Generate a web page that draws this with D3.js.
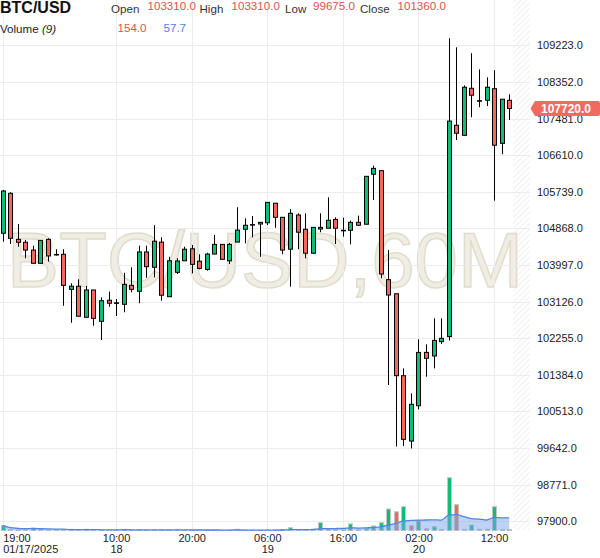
<!DOCTYPE html>
<html><head><meta charset="utf-8">
<script src="https://cdn.jsdelivr.net/npm/d3@7"></script>
<style>
body{margin:0;background:#fff;}
svg{display:block;font-family:"Liberation Sans",Arial,sans-serif;}
</style>
</head><body><svg id="c" width="600" height="558"></svg>
<script>
// ---- DATA ----
const symbol = "BTC/USD";
const watermark = "BTC/USD,60M";
const startTime = new Date(2025, 0, 17, 19, 0, 0);
const opens = [104750,105700,104605,104535,104350,104035,104605,104245,104250,103415,103490,102750,103400,102655,103155,103095,103060,103510,103370,104305,103940,104540,103240,103820,104095,104380,104085,103890,104255,104485,104095,104540,104845,104955,104970,105000,105465,105130,104370,105185,104845,104275,104850,104870,105080,104820,104820,105010,104965,106155,106240,103645,103310,101360,99805,100645,101915,101830,102170,102290,107320,107080,108200,107905,107915,108190,106890,107915];
const highs = [105780,105725,104970,104590,104455,104580,104630,104370,104370,103560,103655,103495,103400,103225,103360,103185,103810,103940,104455,104455,104945,104655,104190,104155,104430,104470,104250,104285,104710,104485,104520,105370,105105,105160,105010,105485,105465,105130,105325,105225,105225,104890,105225,105605,105130,105120,105050,105170,106105,106360,106240,104350,103310,101535,100940,102225,102105,102725,102725,109390,109175,108270,109035,108650,108460,108630,107940,108055];
const lows = [104550,104495,104430,104155,104035,104035,104075,104220,103025,102620,102775,102750,102550,102210,103000,102780,102870,103345,103085,103690,103700,103145,103240,103780,104095,103795,103890,103860,104255,104130,104020,104540,104510,104655,104190,104945,104880,104250,103480,104370,104155,104255,104775,104870,104495,104670,104485,104925,104965,105540,103680,101140,99675,99685,99630,100560,101335,101535,102115,102195,106970,107080,107510,107750,107780,105525,106630,107445];
const closes = [105755,104630,104535,104350,104035,104580,104210,104245,103510,103490,102775,103400,102725,103145,103085,103095,103535,103415,104305,103955,104560,103275,104095,104090,104370,104010,103915,104255,104485,104130,104485,104825,104940,104955,105010,105485,105130,104350,105225,104775,104275,104890,104890,105060,104870,104820,105010,104940,106105,106295,103780,103280,101360,99845,100680,101915,101775,102200,102250,107420,107130,108225,108035,107905,108225,106845,107940,107720];
const volumes = [40,8,6,10,18,5,4,3,6,10,5,10,4,5,3,3,10,3,4,3,4,5,3,10,3,3,3,2,3,2,3,10,3,2,3,4,3,8,23,8,5,12,64,15,8,8,54,8,15,37,64,177,154,196,40,81,15,31,10,435,213,10,45,10,10,196,8,8];
const volumeUp = [1,0,0,1,1,1,0,0,0,1,0,1,0,1,0,0,1,0,1,0,1,0,1,1,1,0,0,1,1,0,1,1,1,0,1,1,0,0,1,0,0,1,1,0,0,0,1,0,1,1,1,1,0,1,0,1,0,1,1,1,0,1,1,0,1,1,1,0];
const priceTicks = [97900,98771,99642,100513,101384,102255,103126,103997,104868,105739,106610,107481,108352,109223];
const timeTickIndex = [0,15,25,35,45,55,65];
const timeTickLabels = ["19:00","10:00","20:00","06:00","16:00","02:00","12:00"];
const dateTickLabels = ["01/17/2025","18","","19","","20",""];
const headerLabels = ["Open","High","Low","Close"];
const headerValues = ["103310.0","103310.0","99675.0","101360.0"];
const volumeLabel = "Volume";
const volumePeriod = "(9)";
const volumeValues = ["154.0","57.7"];
const lastPrice = 107720;

// ---- CHART ----
const svg = d3.select("#c");
const GREEN = "#0dbf74", RED = "#f4685b";
const plotRight = 530, plotBottom = 530, futureLeft = 513;
const times = opens.map((_, i) => d3.timeHour.offset(startTime, i));
const x = d3.scaleTime().domain([times[0], times[times.length - 1]]).range([2.7, 509.2]);
const y = d3.scaleLinear().domain([97900, 109223]).range([521.1, 45.3]);
const yv = d3.scaleLinear().domain([0, 435]).range([530.5, 477.7]);

// hatch pattern for future area
const defs = svg.append("defs");
const pat = defs.append("pattern").attr("id", "hatch").attr("patternUnits", "userSpaceOnUse")
  .attr("width", 4).attr("height", 4).attr("patternTransform", "rotate(45)");
pat.append("line").attr("x1", 0).attr("y1", 0).attr("x2", 0).attr("y2", 4)
  .attr("stroke", "#e4e4e4").attr("stroke-width", 1.2);
svg.append("rect").attr("x", futureLeft).attr("y", 0).attr("width", plotRight - futureLeft)
  .attr("height", plotBottom).attr("fill", "url(#hatch)");

// watermark
svg.append("text").attr("x", 265).attr("y", 287).attr("text-anchor", "middle")
  .attr("font-size", 78).attr("fill", "#f0ede4").attr("stroke", "#e2dccd").attr("stroke-width", 1.5)
  .text(watermark);

// grid
const grid = svg.append("g").attr("stroke", "#ececec").attr("stroke-width", 1);
grid.selectAll(".h").data(priceTicks).join("line")
  .attr("x1", 0).attr("x2", plotRight)
  .attr("y1", d => Math.round(y(d)) + 0.5).attr("y2", d => Math.round(y(d)) + 0.5);
grid.selectAll(".v").data(timeTickIndex).join("line")
  .attr("x1", d => Math.round(x(times[d])) + 0.5).attr("x2", d => Math.round(x(times[d])) + 0.5)
  .attr("y1", 0).attr("y2", plotBottom);

// volume bars
const idx = d3.range(opens.length);
svg.append("g").selectAll("rect").data(idx).join("rect")
  .attr("x", i => Math.round(x(times[i])) - 1.5)
  .attr("width", 4)
  .attr("y", i => yv(volumes[i]))
  .attr("height", i => yv(0) - yv(volumes[i]))
  .attr("fill", i => volumeUp[i] ? GREEN : RED)
  .attr("stroke", "#c4c4c4").attr("stroke-width", 1);

// volume MA(9)
const volMA = idx.map(i => d3.mean(volumes.slice(Math.max(0, i - 8), i + 1)));
const area = d3.area().x(i => x(times[i])).y0(yv(0)).y1(i => yv(volMA[i])).curve(d3.curveMonotoneX);
const line = d3.line().x(i => x(times[i])).y(i => yv(volMA[i])).curve(d3.curveMonotoneX);
svg.append("path").datum(idx).attr("d", area).attr("fill", "#7aa7ee").attr("fill-opacity", 0.5);
svg.append("path").datum(idx).attr("d", line).attr("fill", "none").attr("stroke", "#4f86e6").attr("stroke-width", 1.3);

// candles
const cg = svg.append("g");
cg.selectAll("line").data(idx).join("line")
  .attr("x1", i => Math.round(x(times[i])) + 0.5).attr("x2", i => Math.round(x(times[i])) + 0.5)
  .attr("y1", i => y(highs[i])).attr("y2", i => y(lows[i]))
  .attr("stroke", "#000").attr("stroke-width", 1);
cg.selectAll("rect").data(idx).join("rect")
  .attr("x", i => Math.round(x(times[i])) - 1.5)
  .attr("width", 4)
  .attr("y", i => y(Math.max(opens[i], closes[i])))
  .attr("height", i => Math.max(0.5, Math.abs(y(opens[i]) - y(closes[i]))))
  .attr("fill", i => closes[i] > opens[i] ? GREEN : (closes[i] < opens[i] ? RED : "#000"))
  .attr("stroke", "#000").attr("stroke-width", 1);

// right axis
const yAxis = d3.axisRight(y).tickValues(priceTicks).tickSize(0).tickPadding(0).tickFormat(d3.format(".1f"));
const ya = svg.append("g").attr("transform", "translate(537,0)").call(yAxis);
ya.select(".domain").remove();
ya.selectAll("text").attr("font-size", 11).attr("fill", "#222").attr("font-family", "Liberation Sans, Arial, sans-serif");

// bottom axis
const xAxis = d3.axisBottom(x).tickValues(timeTickIndex.map(i => times[i])).tickSize(0).tickPadding(0)
  .tickFormat((d, k) => timeTickLabels[k]);
const xa = svg.append("g").attr("transform", "translate(0,534)").call(xAxis);
xa.select(".domain").remove();
xa.selectAll("text").attr("font-size", 11).attr("fill", "#222").attr("font-family", "Liberation Sans, Arial, sans-serif")
  .attr("text-anchor", (d, k) => k === 0 ? "start" : "middle")
  .attr("dy", "0.71em");
xa.selectAll(".tick").each(function (d, k) {
  if (dateTickLabels[k]) {
    d3.select(this).append("text").attr("y", 18.5).attr("font-size", 11).attr("fill", "#222")
      .attr("font-family", "Liberation Sans, Arial, sans-serif")
      .attr("text-anchor", k === 0 ? "start" : "middle").text(dateTickLabels[k]);
  }
});

// last price label
const py = y(lastPrice);
svg.append("path")
  .attr("d", `M530.5,${py} L535,${py - 7.5} L598,${py - 7.5} Q600,${py - 7.5} 600,${py - 5.5} L600,${py + 5.5} Q600,${py + 7.5} 598,${py + 7.5} L535,${py + 7.5} Z`)
  .attr("fill", "#f2695f");
svg.append("text").attr("x", 566).attr("y", py + 4.2).attr("text-anchor", "middle")
  .attr("font-size", 12).attr("font-weight", "bold").attr("fill", "#fff").text(d3.format(".1f")(lastPrice));

// header
svg.append("text").attr("x", 0).attr("y", 13.3).attr("font-size", 16).attr("font-weight", "bold").attr("fill", "#111").text(symbol);
const labelX = [111, 199.5, 285, 360];
const valueX = [147.5, 231.5, 313, 397.5];
headerLabels.forEach((l, k) => {
  svg.append("text").attr("x", labelX[k]).attr("y", 12.5).attr("font-size", 11.6).attr("fill", "#333").text(l);
  svg.append("text").attr("x", valueX[k]).attr("y", 10).attr("font-size", 11.6).attr("fill", "#d9534f").text(headerValues[k]);
});
const vt = svg.append("text").attr("x", 0).attr("y", 33).attr("font-size", 11.6).attr("fill", "#222");
vt.append("tspan").text(volumeLabel + " ");
vt.append("tspan").attr("font-style", "italic").text(volumePeriod);
svg.append("text").attr("x", 117.5).attr("y", 32.3).attr("font-size", 11.6).attr("fill", "#d9534f").text(volumeValues[0]);
svg.append("text").attr("x", 163.5).attr("y", 32.3).attr("font-size", 11.6).attr("fill", "#4a86e8").text(volumeValues[1]);
</script>
</body></html>
